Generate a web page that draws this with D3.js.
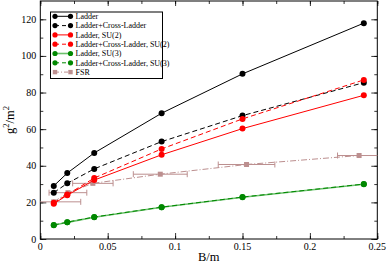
<!DOCTYPE html>
<html>
<head>
<meta charset="utf-8">
<script src="https://cdn.jsdelivr.net/npm/d3@7"></script>
<style>
  body { margin: 0; background: #fff; }
</style>
</head>
<body>
<svg id="chart" width="387" height="263" font-family="Liberation Serif"></svg>
<script>
// data
var bm = [0.01, 0.02, 0.04, 0.09, 0.15, 0.24];
var ladder      = [29.0, 36.0, 47.0, 68.7, 90.2, 117.9];
var ladderCross = [25.3, 30.4, 38.3, 53.2, 67.4, 85.4];
var su2Ladder   = [19.3, 23.9, 32.2, 46.0, 60.3, 78.5];
var su2Cross    = [19.8, 24.3, 33.3, 49.2, 65.6, 86.9];
var su3Ladder   = [7.5, 9.1, 11.9, 17.3, 22.8, 29.9];
var su3Cross    = [7.6, 9.2, 12.0, 17.4, 22.9, 30.0];

var fsrX   = [0.010, 0.0205, 0.039, 0.089, 0.153, 0.2365];
var fsrY   = [20.3, 25.3, 30.4, 35.4, 40.7, 45.6];
var fsrErr = [0.020, 0.014, 0.015, 0.020, 0.021, 0.016];

var xTicks = [0, 0.05, 0.1, 0.15, 0.2, 0.25];
var yTicks = [0, 20, 40, 60, 80, 100, 120];

var series = [
  {name: "Ladder", y: ladder, color: "#000000", dash: null},
  {name: "Ladder+Cross-Ladder", y: ladderCross, color: "#000000", dash: "5,3"},
  {name: "Ladder, SU(2)", y: su2Ladder, color: "#ff0000", dash: null},
  {name: "Ladder+Cross-Ladder, SU(2)", y: su2Cross, color: "#ff0000", dash: "5,3"},
  {name: "Ladder, SU(3)", y: su3Ladder, color: "#6cc06c", dash: null, lw: 1.6},
  {name: "Ladder+Cross-Ladder, SU(3)", y: su3Cross, color: "#008800", dash: "5,3"}
];

var serif = "'Liberation Serif', 'Times New Roman', Times, serif";

var svg = d3.select("#chart"),
    margin = {top: 1, right: 9.7, bottom: 24, left: 40.3},
    width = +svg.attr("width") - margin.left - margin.right,
    height = +svg.attr("height") - margin.top - margin.bottom;

var x = d3.scaleLinear().domain([0, 0.25]).range([0, width]),
    y = d3.scaleLinear().domain([0, 130]).range([height, 0]);

var g = svg.append("g")
    .attr("transform", "translate(" + margin.left + "," + margin.top + ")");

svg.append("clipPath").attr("id", "clip")
  .append("rect").attr("x", 0).attr("y", 0).attr("width", width).attr("height", height);

// ticks, all four sides, pointing inward
var xMinor = d3.range(0, 0.2501, 0.025), yMinor = d3.range(0, 130, 10);
function tickAxis(axis, ticks, size) {
  return axis.tickValues(ticks).tickSize(size).tickFormat("");
}
g.append("g").attr("transform", "translate(0," + height + ")")
  .call(tickAxis(d3.axisTop(x), xMinor, 3));
g.append("g").attr("transform", "translate(0," + height + ")")
  .call(tickAxis(d3.axisTop(x), xTicks, 6));
g.append("g").call(tickAxis(d3.axisBottom(x), xMinor, 3));
g.append("g").call(tickAxis(d3.axisBottom(x), xTicks, 5));
g.append("g").call(tickAxis(d3.axisRight(y), yMinor, 3));
g.append("g").call(tickAxis(d3.axisRight(y), yTicks, 6));
g.append("g").attr("transform", "translate(" + width + ",0)")
  .call(tickAxis(d3.axisLeft(y), yMinor, 3));
g.append("g").attr("transform", "translate(" + width + ",0)")
  .call(tickAxis(d3.axisLeft(y), yTicks, 6));
g.selectAll(".domain").remove();
g.selectAll(".tick line").attr("stroke", "#000").attr("stroke-width", 0.8);

g.append("rect").attr("width", width).attr("height", height)
  .attr("fill", "none").attr("stroke", "#000").attr("stroke-width", 1);

// tick labels
g.selectAll(".xlab").data(xTicks).enter().append("text")
  .attr("x", function(d) { return x(d); })
  .attr("y", height + 11)
  .attr("text-anchor", "middle")
  .attr("font-family", serif)
  .attr("font-size", 10)
  .text(function(d) { return d; });
g.selectAll(".ylab").data(yTicks).enter().append("text")
  .attr("x", -4)
  .attr("y", function(d) { return y(d) + 3.5; })
  .attr("text-anchor", "end")
  .attr("font-family", serif)
  .attr("font-size", 10)
  .text(function(d) { return d; });

svg.append("text")
  .attr("x", margin.left + x(0.125)).attr("y", 260.5)
  .attr("text-anchor", "middle")
  .attr("font-family", serif).attr("font-size", 12.5)
  .text("B/m");

var ylab = svg.append("text")
  .attr("transform", "translate(14," + (margin.top + height / 2) + ") rotate(-90)")
  .attr("text-anchor", "middle")
  .attr("font-family", serif).attr("font-size", 12.5);
ylab.append("tspan").text("g");
ylab.append("tspan").attr("dy", -5).attr("font-size", 8.5).text("2");
ylab.append("tspan").attr("dy", 5).text("/m");
ylab.append("tspan").attr("dy", -5).attr("font-size", 8.5).text("2");

// data
var plot = g.append("g").attr("clip-path", "url(#clip)");

var line = d3.line()
  .x(function(d) { return x(d[0]); })
  .y(function(d) { return y(d[1]); });

// FSR
var fsr = fsrX.map(function(v, i) { return [v, fsrY[i], fsrErr[i]]; });
var fsrColor = "#bc8f8f";
plot.append("path").datum(fsr)
  .attr("d", line).attr("fill", "none")
  .attr("stroke", fsrColor).attr("stroke-width", 1)
  .attr("stroke-dasharray", "6,2,1,2");
var eb = plot.selectAll(".eb").data(fsr).enter().append("g")
  .attr("stroke", fsrColor).attr("stroke-width", 1);
eb.append("line")
  .attr("x1", function(d) { return x(d[0] - d[2]); })
  .attr("x2", function(d) { return x(d[0] + d[2]); })
  .attr("y1", function(d) { return y(d[1]); })
  .attr("y2", function(d) { return y(d[1]); });
eb.append("line")
  .attr("x1", function(d) { return x(d[0] - d[2]); })
  .attr("x2", function(d) { return x(d[0] - d[2]); })
  .attr("y1", function(d) { return y(d[1]) - 3; })
  .attr("y2", function(d) { return y(d[1]) + 3; });
eb.append("line")
  .attr("x1", function(d) { return x(d[0] + d[2]); })
  .attr("x2", function(d) { return x(d[0] + d[2]); })
  .attr("y1", function(d) { return y(d[1]) - 3; })
  .attr("y2", function(d) { return y(d[1]) + 3; });
plot.selectAll(".fsq").data(fsr).enter().append("rect")
  .attr("x", function(d) { return x(d[0]) - 2.5; })
  .attr("y", function(d) { return y(d[1]) - 2.5; })
  .attr("width", 5).attr("height", 5)
  .attr("fill", fsrColor);

series.forEach(function(s) {
  var pts = bm.map(function(v, i) { return [v, s.y[i]]; });
  plot.append("path").datum(pts)
    .attr("d", line).attr("fill", "none")
    .attr("stroke", s.color).attr("stroke-width", s.lw || 1)
    .attr("stroke-dasharray", s.dash);
  plot.selectAll(null).data(pts).enter().append("circle")
    .attr("cx", function(d) { return x(d[0]); })
    .attr("cy", function(d) { return y(d[1]); })
    .attr("r", 3)
    .attr("fill", s.color == "#6cc06c" ? "#008800" : s.color);
});

// legend
var legItems = series.concat([{name: "FSR", color: fsrColor, dash: "4,2,1,2", square: true}]);
var leg = svg.append("g");
leg.append("rect").attr("x", 50.5).attr("y", 12).attr("width", 112).attr("height", 66.5)
  .attr("fill", "#fff").attr("stroke", "#000").attr("stroke-width", 1);
legItems.forEach(function(s, i) {
  var ly = 16.3 + i * 9.3;
  var mc = s.color == "#6cc06c" ? "#008800" : s.color;
  leg.append("line").attr("x1", 55).attr("x2", 70.5).attr("y1", ly).attr("y2", ly)
    .attr("stroke", s.color).attr("stroke-width", s.lw || 1)
    .attr("stroke-dasharray", s.dash ? (s.square ? "4,2,1,2" : "4,3") : null);
  if (s.square) {
    [55, 70.5].forEach(function(px) {
      leg.append("rect").attr("x", px - 2.2).attr("y", ly - 2.2)
        .attr("width", 4.4).attr("height", 4.4).attr("fill", mc);
    });
  } else {
    [55, 70.5].forEach(function(px) {
      leg.append("circle").attr("cx", px).attr("cy", ly).attr("r", 2.6).attr("fill", mc);
    });
  }
  leg.append("text").attr("x", 75.5).attr("y", ly + 2.8)
    .attr("font-family", serif).attr("font-size", 8)
    .text(s.name);
});
</script>
</body>
</html>
